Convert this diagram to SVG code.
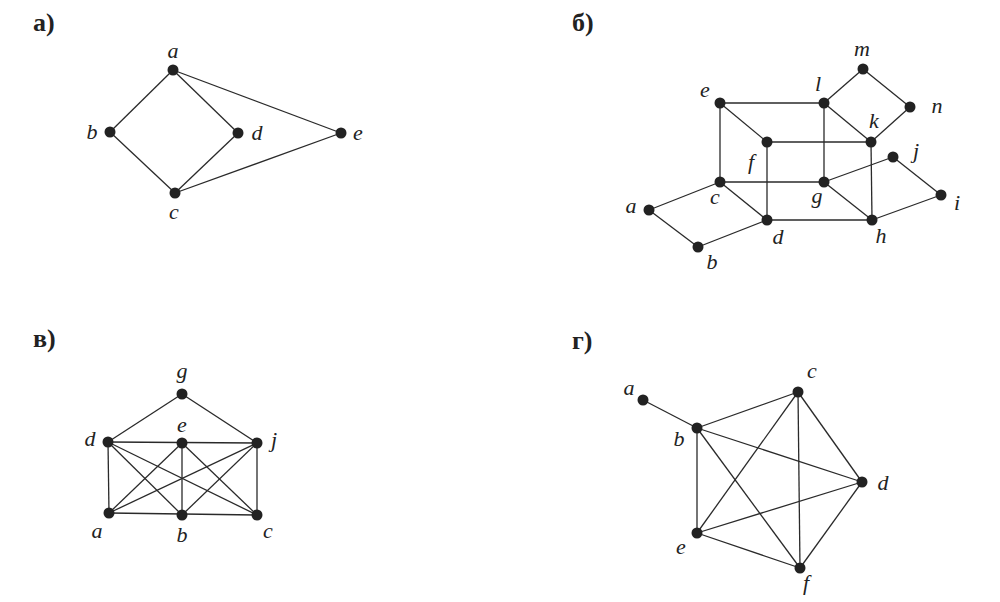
<svg xmlns="http://www.w3.org/2000/svg" width="1000" height="602" viewBox="0 0 1000 602">
<style>
.e{stroke:#2a2a2a;stroke-width:1.3;fill:none}
.n{fill:#222}
.l{font-family:"Liberation Serif",serif;font-style:italic;font-size:22px;fill:#222;text-anchor:middle}
.t{font-family:"Liberation Serif",serif;font-weight:bold;font-size:26px;fill:#222}
</style>
<rect width="1000" height="602" fill="#fff"/>
<text class="t" x="33" y="31">а)</text>
<text class="t" x="572" y="31">б)</text>
<text class="t" x="33" y="347">в)</text>
<text class="t" x="572" y="349">г)</text>
<g id="connectors">
<g id="edges-a">
<line class="e" x1="173" y1="70" x2="110" y2="132"/>
<line class="e" x1="173" y1="70" x2="238" y2="133"/>
<line class="e" x1="173" y1="70" x2="341" y2="133"/>
<line class="e" x1="110" y1="132" x2="175" y2="193"/>
<line class="e" x1="238" y1="133" x2="175" y2="193"/>
<line class="e" x1="175" y1="193" x2="341" y2="133"/>
</g>
<g id="edges-b">
<line class="e" x1="720" y1="103" x2="824" y2="103"/>
<line class="e" x1="720" y1="103" x2="767" y2="142"/>
<line class="e" x1="720" y1="103" x2="720" y2="182"/>
<line class="e" x1="824" y1="103" x2="863" y2="69"/>
<line class="e" x1="863" y1="69" x2="910" y2="107"/>
<line class="e" x1="910" y1="107" x2="871" y2="142"/>
<line class="e" x1="824" y1="103" x2="871" y2="142"/>
<line class="e" x1="824" y1="103" x2="824" y2="182"/>
<line class="e" x1="767" y1="142" x2="871" y2="142"/>
<line class="e" x1="767" y1="142" x2="767" y2="220"/>
<line class="e" x1="871" y1="142" x2="872" y2="220"/>
<line class="e" x1="720" y1="182" x2="824" y2="182"/>
<line class="e" x1="720" y1="182" x2="649" y2="210"/>
<line class="e" x1="720" y1="182" x2="767" y2="220"/>
<line class="e" x1="649" y1="210" x2="698" y2="247"/>
<line class="e" x1="698" y1="247" x2="767" y2="220"/>
<line class="e" x1="767" y1="220" x2="872" y2="220"/>
<line class="e" x1="824" y1="182" x2="893" y2="157"/>
<line class="e" x1="824" y1="182" x2="872" y2="220"/>
<line class="e" x1="893" y1="157" x2="941" y2="195"/>
<line class="e" x1="872" y1="220" x2="941" y2="195"/>
</g>
<g id="edges-v">
<line class="e" x1="182" y1="394" x2="108" y2="442"/>
<line class="e" x1="182" y1="394" x2="257" y2="443"/>
<line class="e" x1="108" y1="442" x2="257" y2="443"/>
<line class="e" x1="108" y1="442" x2="109" y2="513"/>
<line class="e" x1="257" y1="443" x2="257" y2="515"/>
<line class="e" x1="109" y1="513" x2="257" y2="515"/>
<line class="e" x1="182" y1="443" x2="182" y2="515"/>
<line class="e" x1="108" y1="442" x2="182" y2="515"/>
<line class="e" x1="108" y1="442" x2="257" y2="515"/>
<line class="e" x1="182" y1="443" x2="109" y2="513"/>
<line class="e" x1="182" y1="443" x2="257" y2="515"/>
<line class="e" x1="257" y1="443" x2="109" y2="513"/>
<line class="e" x1="257" y1="443" x2="182" y2="515"/>
</g>
<g id="edges-g">
<line class="e" x1="643" y1="400" x2="697" y2="428"/>
<line class="e" x1="697" y1="428" x2="798" y2="392"/>
<line class="e" x1="697" y1="428" x2="862" y2="482"/>
<line class="e" x1="697" y1="428" x2="697" y2="533"/>
<line class="e" x1="697" y1="428" x2="800" y2="568"/>
<line class="e" x1="798" y1="392" x2="862" y2="482"/>
<line class="e" x1="798" y1="392" x2="697" y2="533"/>
<line class="e" x1="798" y1="392" x2="800" y2="568"/>
<line class="e" x1="862" y1="482" x2="697" y2="533"/>
<line class="e" x1="862" y1="482" x2="800" y2="568"/>
<line class="e" x1="697" y1="533" x2="800" y2="568"/>
</g>
</g>
<g id="graph-a">
<g id="a-a"><circle class="n" cx="173" cy="70" r="5.5"/><text class="l" x="173" y="58">a</text></g>
<g id="a-b"><circle class="n" cx="110" cy="132" r="5.5"/><text class="l" x="92" y="139">b</text></g>
<g id="a-d"><circle class="n" cx="238" cy="133" r="5.5"/><text class="l" x="257" y="140">d</text></g>
<g id="a-e"><circle class="n" cx="341" cy="133" r="5.5"/><text class="l" x="358" y="140">e</text></g>
<g id="a-c"><circle class="n" cx="175" cy="193" r="5.5"/><text class="l" x="174" y="219">c</text></g>
</g>
<g id="graph-b">
<g id="b-m"><circle class="n" cx="863" cy="69" r="5.5"/><text class="l" x="862" y="56">m</text></g>
<g id="b-l"><circle class="n" cx="824" cy="103" r="5.5"/><text class="l" x="818" y="91">l</text></g>
<g id="b-n"><circle class="n" cx="910" cy="107" r="5.5"/><text class="l" x="937" y="113">n</text></g>
<g id="b-e"><circle class="n" cx="720" cy="103" r="5.5"/><text class="l" x="705" y="97">e</text></g>
<g id="b-k"><circle class="n" cx="871" cy="142" r="5.5"/><text class="l" x="874" y="128">k</text></g>
<g id="b-f"><circle class="n" cx="767" cy="142" r="5.5"/><text class="l" x="751" y="169">f</text></g>
<g id="b-j"><circle class="n" cx="893" cy="157" r="5.5"/><text class="l" x="916" y="158">j</text></g>
<g id="b-c"><circle class="n" cx="720" cy="182" r="5.5"/><text class="l" x="715" y="204">c</text></g>
<g id="b-g"><circle class="n" cx="824" cy="182" r="5.5"/><text class="l" x="817" y="203">g</text></g>
<g id="b-i"><circle class="n" cx="941" cy="195" r="5.5"/><text class="l" x="957" y="210">i</text></g>
<g id="b-a"><circle class="n" cx="649" cy="210" r="5.5"/><text class="l" x="631" y="213">a</text></g>
<g id="b-d"><circle class="n" cx="767" cy="220" r="5.5"/><text class="l" x="778" y="244">d</text></g>
<g id="b-h"><circle class="n" cx="872" cy="220" r="5.5"/><text class="l" x="881" y="243">h</text></g>
<g id="b-b"><circle class="n" cx="698" cy="247" r="5.5"/><text class="l" x="712" y="269">b</text></g>
</g>
<g id="graph-v">
<g id="v-g"><circle class="n" cx="182" cy="394" r="5.5"/><text class="l" x="182" y="378">g</text></g>
<g id="v-d"><circle class="n" cx="108" cy="442" r="5.5"/><text class="l" x="90" y="446">d</text></g>
<g id="v-e"><circle class="n" cx="182" cy="443" r="5.5"/><text class="l" x="182" y="432">e</text></g>
<g id="v-j"><circle class="n" cx="257" cy="443" r="5.5"/><text class="l" x="274" y="447">j</text></g>
<g id="v-a"><circle class="n" cx="109" cy="513" r="5.5"/><text class="l" x="97" y="538">a</text></g>
<g id="v-b"><circle class="n" cx="182" cy="515" r="5.5"/><text class="l" x="182" y="542">b</text></g>
<g id="v-c"><circle class="n" cx="257" cy="515" r="5.5"/><text class="l" x="268" y="538">c</text></g>
</g>
<g id="graph-g">
<g id="g-a"><circle class="n" cx="643" cy="400" r="5.5"/><text class="l" x="629" y="395">a</text></g>
<g id="g-c"><circle class="n" cx="798" cy="392" r="5.5"/><text class="l" x="812" y="378">c</text></g>
<g id="g-b"><circle class="n" cx="697" cy="428" r="5.5"/><text class="l" x="679" y="446">b</text></g>
<g id="g-d"><circle class="n" cx="862" cy="482" r="5.5"/><text class="l" x="883" y="490">d</text></g>
<g id="g-e"><circle class="n" cx="697" cy="533" r="5.5"/><text class="l" x="681" y="554">e</text></g>
<g id="g-f"><circle class="n" cx="800" cy="568" r="5.5"/><text class="l" x="806" y="590">f</text></g>
</g>
</svg>
